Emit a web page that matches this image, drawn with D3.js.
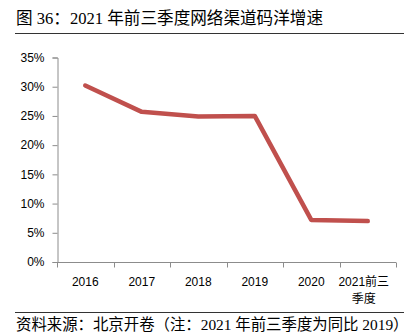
<!DOCTYPE html>
<html>
<head>
<meta charset="utf-8">
<script src="https://cdn.jsdelivr.net/npm/d3@7"></script>
<style>
  html, body { margin: 0; padding: 0; background: #fff; }
  svg { display: block; }
</style>
</head>
<body>
<svg id="chart" width="414" height="334"></svg>
<script>
// Online channel retail-value growth by year
const categories = ["2016", "2017", "2018", "2019", "2020", "2021前三季度"];
const growth = [0.302, 0.257, 0.249, 0.250, 0.072, 0.070];
const yTicks = [0, 0.05, 0.10, 0.15, 0.20, 0.25, 0.30, 0.35];

const titleText = "图 36：2021 年前三季度网络渠道码洋增速";
const sourceText = "资料来源：北京开卷（注：2021 年前三季度为同比 2019）";

const W = 414, H = 334;
const svg = d3.select("#chart");
const cjkFont = "'Liberation Serif', 'Noto Sans CJK SC', serif";
const axisFont = "'Liberation Sans', 'Noto Sans CJK SC', sans-serif";

// header
svg.append("text")
  .attr("x", 16).attr("y", 24)
  .attr("font-family", cjkFont).attr("font-size", 16.6)
  .attr("fill", "#000")
  .text(titleText);
svg.append("line")
  .attr("x1", 15).attr("x2", 404).attr("y1", 33.5).attr("y2", 33.5)
  .attr("stroke", "#333").attr("stroke-width", 1);

// footer
svg.append("line")
  .attr("x1", 15).attr("x2", 404).attr("y1", 312.5).attr("y2", 312.5)
  .attr("stroke", "#333").attr("stroke-width", 1);
svg.append("text")
  .attr("x", 16).attr("y", 330)
  .attr("font-family", cjkFont).attr("font-size", 15.4)
  .attr("fill", "#000")
  .text(sourceText);

// plot area
const plot = { left: 57, right: 396, top: 57.5, bottom: 262 };

const x = d3.scaleBand()
  .domain(categories)
  .range([plot.left, plot.right])
  .padding(0);

const y = d3.scaleLinear()
  .domain([0, 0.35])
  .range([plot.bottom, plot.top]);

const axisColor = "#8c8c8c";

// y axis
const yAxis = d3.axisLeft(y)
  .tickValues(yTicks)
  .tickFormat(d3.format(".0%"))
  .tickSize(5)
  .tickPadding(8);
const gy = svg.append("g")
  .attr("transform", `translate(${plot.left + 0.5},0)`)
  .call(yAxis);
gy.select(".domain").attr("stroke", axisColor);
gy.selectAll(".tick line").attr("stroke", axisColor);
gy.selectAll(".tick text")
  .attr("font-family", axisFont).attr("font-size", 12).attr("fill", "#000");

// x axis: ticks on band edges, labels at band centres
const gx = svg.append("g")
  .attr("transform", `translate(0,${plot.bottom + 0.5})`);
gx.append("line")
  .attr("x1", plot.left).attr("x2", plot.right)
  .attr("stroke", axisColor);
const edges = categories.map(c => x(c)).concat([plot.right]);
gx.selectAll("line.edge")
  .data(edges)
  .join("line")
  .attr("class", "edge")
  .attr("x1", d => Math.round(d) + 0.5).attr("x2", d => Math.round(d) + 0.5)
  .attr("y1", 0).attr("y2", 5)
  .attr("stroke", axisColor);

const labels = gx.selectAll("text.cat")
  .data(categories)
  .join("text")
  .attr("class", "cat")
  .attr("x", d => x(d) + x.bandwidth() / 2)
  .attr("y", 23)
  .attr("text-anchor", "middle")
  .attr("font-family", axisFont).attr("font-size", 12)
  .attr("fill", "#000");
labels.each(function(d) {
  const t = d3.select(this);
  const m = d.match(/^(\d{4})(.+)$/);
  if (m && m[2].length > 2) {
    // long label wraps to two lines
    const first = m[1] + m[2].slice(0, 2);
    const second = m[2].slice(2);
    t.append("tspan").attr("x", x(d) + x.bandwidth() / 2 - 4).text(first);
    t.append("tspan").attr("x", x(d) + x.bandwidth() / 2 - 4).attr("dy", 17).text(second);
  } else {
    t.text(d);
  }
});

// series line
const line = d3.line()
  .x((d, i) => x(categories[i]) + x.bandwidth() / 2)
  .y(d => y(d));

svg.append("path")
  .datum(growth)
  .attr("d", line)
  .attr("fill", "none")
  .attr("stroke", "#c0504d")
  .attr("stroke-width", 4.5)
  .attr("stroke-linejoin", "round")
  .attr("stroke-linecap", "round");
</script>
</body>
</html>
